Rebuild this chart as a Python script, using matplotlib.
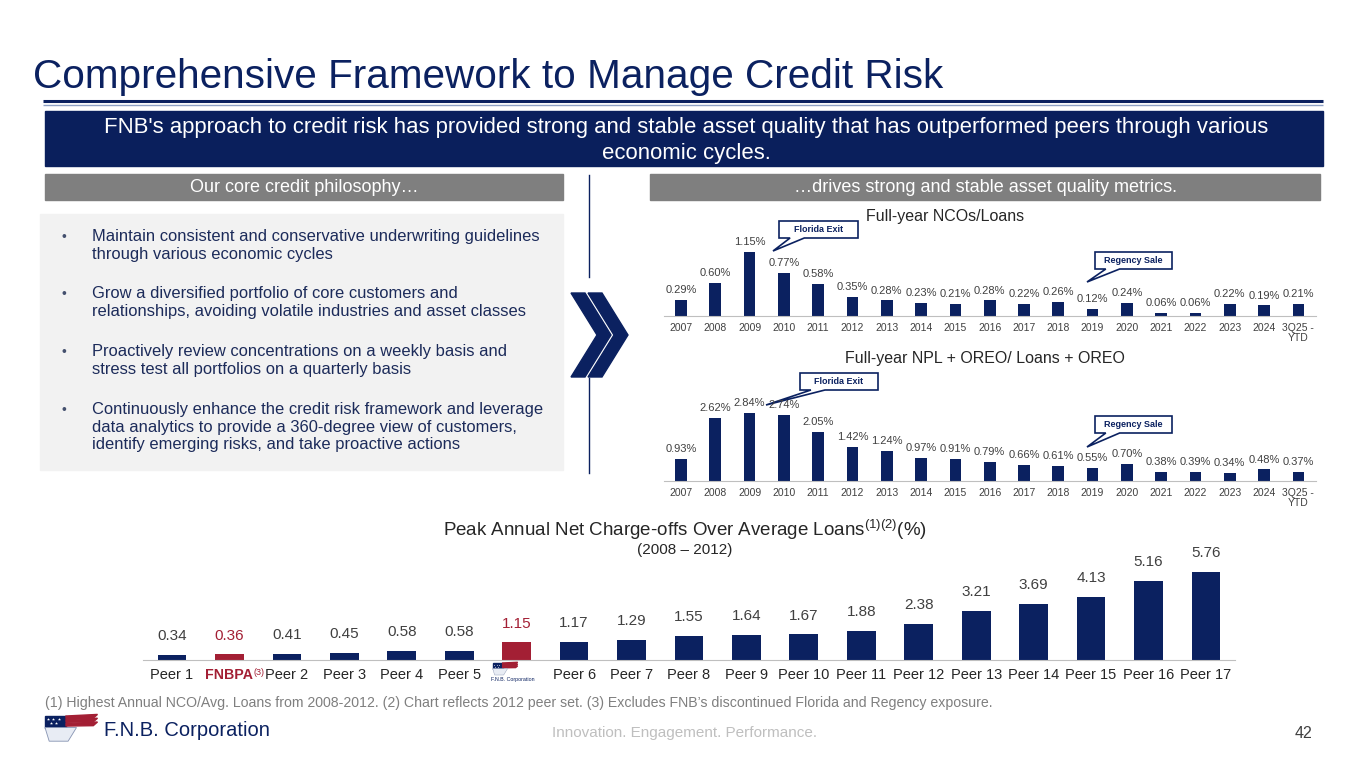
import numpy as np
import matplotlib.pyplot as plt
import matplotlib.transforms as mtransforms
from matplotlib.patches import Rectangle, Polygon

plt.rcParams['font.family'] = ['Liberation Sans', 'DejaVu Sans']
plt.rcParams['mathtext.fontset'] = 'custom'
plt.rcParams['mathtext.rm'] = 'Liberation Sans'
plt.rcParams['mathtext.it'] = 'Liberation Sans:italic'
plt.rcParams['mathtext.bf'] = 'Liberation Sans:bold'
plt.rcParams['mathtext.default'] = 'regular'

# data
years = ['2007', '2008', '2009', '2010', '2011', '2012', '2013', '2014', '2015', '2016',
         '2017', '2018', '2019', '2020', '2021', '2022', '2023', '2024', '3Q25 -\nYTD']
nco = [0.29, 0.60, 1.15, 0.77, 0.58, 0.35, 0.28, 0.23, 0.21, 0.28,
       0.22, 0.26, 0.12, 0.24, 0.06, 0.06, 0.22, 0.19, 0.21]
npl = [0.93, 2.62, 2.84, 2.74, 2.05, 1.42, 1.24, 0.97, 0.91, 0.79,
       0.66, 0.61, 0.55, 0.70, 0.38, 0.39, 0.34, 0.48, 0.37]
peers = ['Peer 1', 'FNBPA', 'Peer 2', 'Peer 3', 'Peer 4', 'Peer 5', 'FNB', 'Peer 6',
         'Peer 7', 'Peer 8', 'Peer 9', 'Peer 10', 'Peer 11', 'Peer 12', 'Peer 13',
         'Peer 14', 'Peer 15', 'Peer 16', 'Peer 17']
peak_nco = [0.34, 0.36, 0.41, 0.45, 0.58, 0.58, 1.15, 1.17, 1.29, 1.55, 1.64, 1.67,
            1.88, 2.38, 3.21, 3.69, 4.13, 5.16, 5.76]
highlight = ['FNBPA', 'FNB']

bullets = [
    "Maintain consistent and conservative underwriting guidelines\nthrough various economic cycles",
    "Grow a diversified portfolio of core customers and\nrelationships, avoiding volatile industries and asset classes",
    "Proactively review concentrations on a weekly basis and\nstress test all portfolios on a quarterly basis",
    "Continuously enhance the credit risk framework and leverage\ndata analytics to provide a 360-degree view of customers,\nidentify emerging risks, and take proactive actions",
]

NAVY = '#0B2160'
RED = '#A31F34'
GREY = '#7F7F7F'
W, H = 1365, 768

fig = plt.figure(figsize=(W / 100, H / 100), dpi=100)
ov = fig.add_axes([0, 0, 1, 1])
ov.set_xlim(0, W)
ov.set_ylim(H, 0)
ov.axis('off')

# header
ov.text(33, 77, "Comprehensive Framework to Manage Credit Risk", fontsize=29.2,
        color=NAVY, va='center', ha='left')
ov.plot([43, 1323], [101, 101], color=NAVY, lw=2.2, solid_capstyle='butt')
ov.plot([43, 1323], [104.5, 104.5], color='#8EA0C4', lw=1, solid_capstyle='butt')
ov.add_patch(Rectangle((45, 111), 1278, 55, color='#0A1F5C'))
ov.text(686, 140.5, "FNB's approach to credit risk has provided strong and stable asset quality that has outperformed peers through various\neconomic cycles.",
        fontsize=15.9, color='white', ha='center', va='center', linespacing=1.28)

ov.add_patch(Rectangle((45, 174), 518, 26, color=GREY))
ov.text(304, 187.5, "Our core credit philosophy\u2026", fontsize=13, color='white', ha='center', va='center')
ov.add_patch(Rectangle((650, 174), 670, 26, color=GREY))
ov.text(985, 187.5, "\u2026drives strong and stable asset quality metrics.", fontsize=13, color='white',
        ha='center', va='center')

# left box with bullets
ov.add_patch(Rectangle((40, 214), 523, 256, color='#F2F2F2'))
by = [229, 286, 344, 402]
for y, b in zip(by, bullets):
    ov.text(62, y + 1, "\u2022", fontsize=10, color='#44506E', va='top')
    ov.text(92, y, b, fontsize=11.9, color='#1C2B5A', va='top', linespacing=1.22)

# divider and chevrons
ov.plot([589, 589], [175, 277], color=NAVY, lw=1)
ov.plot([589, 589], [378, 473], color=NAVY, lw=1)
for dx in (0, 17):
    ov.add_patch(Polygon([(571 + dx, 293), (585 + dx, 293), (611 + dx, 335), (585 + dx, 377),
                          (571 + dx, 377), (597 + dx, 335)], closed=True, color=NAVY))


def bar_chart(rect, vals, labels, ymax, fmt, fs, off, width, colors):
    ax = fig.add_axes(rect)
    x = np.arange(len(vals))
    ax.bar(x, vals, width=width, color=colors)
    for i, v in enumerate(vals):
        ax.annotate(fmt.format(v), (i, v), xytext=(0, off), textcoords='offset points',
                    ha='center', va='bottom', fontsize=fs, color=colors[i] if colors[i] == RED else '#404040')
    ax.set_xlim(-0.5, len(vals) - 0.5)
    ax.set_ylim(0, ymax)
    ax.set_xticks(x)
    ax.set_xticklabels(labels)
    ax.set_yticks([])
    ax.patch.set_alpha(0)
    for s in ['top', 'left', 'right']:
        ax.spines[s].set_visible(False)
    ax.spines['bottom'].set_color('#BFBFBF')
    ax.tick_params(axis='x', length=0, pad=5)
    return ax


# year charts
sp1 = 34.3
left1 = 681 - sp1 / 2
ax1 = bar_chart([left1 / W, (H - 316) / H, sp1 * 19 / W, 1.5 * 55.5 / H], nco, years, 1.5,
                '{:.2f}%', 8, 3.5, 0.34, [NAVY] * len(nco))
ax2 = bar_chart([left1 / W, (H - 481) / H, sp1 * 19 / W, 3.2 * 24 / H], npl, years, 3.2,
                '{:.2f}%', 8, 3.5, 0.34, [NAVY] * len(npl))
for ax in (ax1, ax2):
    for t in ax.get_xticklabels():
        t.set_fontsize(7.5)
        t.set_color('#404040')
        t.set_linespacing(1.05)
ov.text(945, 216, "Full-year NCOs/Loans", fontsize=11.5, color='#262626', ha='center', va='center')
ov.text(985, 358, "Full-year NPL + OREO/ Loans + OREO", fontsize=11.5, color='#262626',
        ha='center', va='center')


def callout(x0, y0, w, h, tip, text):
    pts = [(x0, y0), (x0 + w, y0), (x0 + w, y0 + h), (x0 + w * 0.32, y0 + h), tip,
           (x0 + w * 0.14, y0 + h), (x0, y0 + h)]
    ov.add_patch(Polygon(pts, closed=True, facecolor='white', edgecolor=NAVY, lw=1.2, zorder=5))
    ov.text(x0 + w / 2, y0 + h / 2, text, fontsize=6.5, fontweight='bold', color=NAVY,
            ha='center', va='center', zorder=6)


callout(779, 221, 79, 17, (773, 251), "Florida Exit")
callout(800, 373, 78, 17, (766, 405), "Florida Exit")
callout(1095, 252, 77, 17, (1087, 282), "Regency Sale")
callout(1095, 416, 77, 17, (1087, 447), "Regency Sale")

# peer chart
sp3 = 57.44
left3 = 172 - sp3 / 2
peer_colors = [RED if p in highlight else NAVY for p in peers]
tick_txt = ['' if p == 'FNB' else p for p in peers]
ax3 = bar_chart([left3 / W, (H - 660) / H, sp3 * 19 / W, 6.5 * 15.3 / H], peak_nco, tick_txt, 6.5,
                '{:.2f}', 11, 8.5, 0.5, peer_colors)
for t, p in zip(ax3.get_xticklabels(), peers):
    t.set_fontsize(10.5)
    t.set_color('#262626')
    if p == 'FNBPA':
        t.set_color(RED)
        t.set_fontweight('bold')
        t.set_fontsize(10.2)
        t.set_transform(t.get_transform() + mtransforms.ScaledTranslation(-6 / 100, 0, fig.dpi_scale_trans))
        ax3.annotate('(3)', xy=(1.0, 1.0), xycoords=t, ha='left', va='top', fontsize=6.5, color=RED)
ax3.tick_params(axis='x', pad=6)
ov.text(685, 530, "Peak Annual Net Charge-offs Over Average Loans$^{(1)(2)}$(%)", fontsize=13.5,
        color='#262626', ha='center', va='center')
ov.text(685, 550, "(2008 \u2013 2012)", fontsize=11, color='#262626', ha='center', va='center')


def flag(x, y, s):
    ov.add_patch(Rectangle((x, y), 20 * s, 11 * s, color=NAVY))
    for sx, sy in [(3, 3), (8, 3), (13, 3), (5.5, 7), (10.5, 7)]:
        ov.plot(x + sx * s, y + sy * s, marker='*', color='white', ms=2.2 * s, mew=0)
    for k in range(3):
        yy = y + k * 3.6 * s
        ov.add_patch(Polygon([(x + 20 * s, yy), (x + 50 * s, yy - 1.5 * s), (x + 46 * s, yy + 2 * s),
                              (x + 20 * s, yy + 2.4 * s)], closed=True, color=RED))
    ov.add_patch(Polygon([(x, y + 11 * s), (x + 30 * s, y + 11 * s), (x + 22 * s, y + 24 * s),
                          (x + 4 * s, y + 24 * s)], closed=True, facecolor='#E8ECF4',
                         edgecolor='#8A97B5', lw=0.6 * s))


# tiny logo in the peer axis: flag above, name below
i_fnb = peers.index('FNB')
dx, dy = ax3.transData.transform((i_fnb, 0))
flag(dx - 24, H - dy + 3, 0.5)
ov.text(dx - 4, H - dy + 19, "F.N.B. Corporation", fontsize=3.8, color=NAVY, ha='center', va='center')

# footer
ov.text(45, 703, "(1) Highest Annual NCO/Avg. Loans from 2008-2012. (2) Chart reflects 2012 peer set. (3) Excludes FNB\u2019s discontinued Florida and Regency exposure.",
        fontsize=10.2, color=GREY, va='center')
flag(45, 716, 1.05)
ov.text(104, 731, "F.N.B. Corporation", fontsize=14.5, color=NAVY, va='center', ha='left')
ov.text(685, 733, "Innovation. Engagement. Performance.", fontsize=11, color='#BFBFBF',
        ha='center', va='center')
ov.text(1312, 733, "42", fontsize=11.5, color='#404040', ha='right', va='center')

fig.savefig('out.png', dpi=100)
